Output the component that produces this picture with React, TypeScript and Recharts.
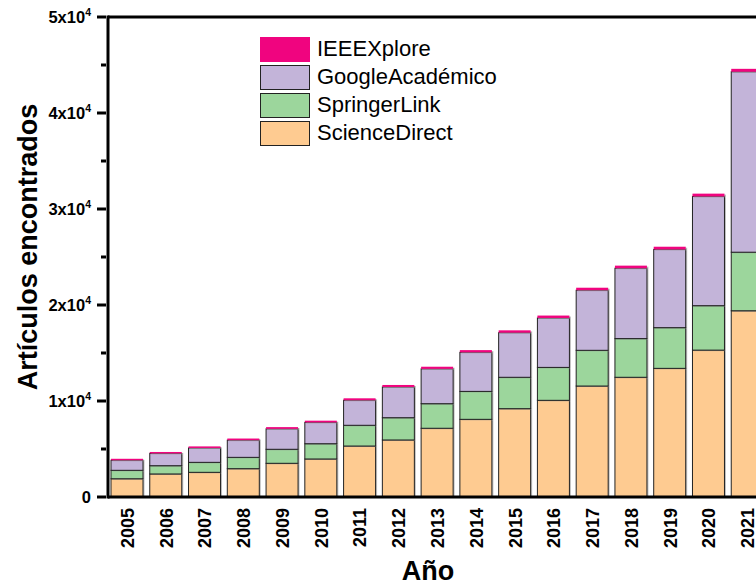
import { BarChart, Bar, XAxis, YAxis, Legend, ReferenceLine } from "recharts";

const years = ["2005", "2006", "2007", "2008", "2009", "2010", "2011", "2012", "2013", "2014", "2015", "2016", "2017", "2018", "2019", "2020", "2021"];
const scienceDirect = [1900, 2400, 2570, 2950, 3510, 3960, 5310, 5940, 7160, 8090, 9200, 10070, 11560, 12470, 13400, 15300, 19400];
const springerLink = [880, 860, 1040, 1180, 1460, 1590, 2160, 2320, 2560, 2910, 3270, 3430, 3720, 4030, 4240, 4630, 6100];
const googleAcademico = [1050, 1280, 1500, 1790, 2130, 2220, 2610, 3200, 3630, 4070, 4650, 5150, 6260, 7330, 8150, 11380, 18800];
const ieeeXplore = [150, 150, 160, 170, 180, 180, 200, 210, 220, 230, 240, 250, 260, 270, 280, 290, 300];
const yTicks = [0, 5000, 10000, 15000, 20000, 25000, 30000, 35000, 40000, 45000, 50000];

const data = years.map((year, i) => ({
  year,
  scienceDirect: scienceDirect[i],
  springerLink: springerLink[i],
  googleAcademico: googleAcademico[i],
  ieeeXplore: ieeeXplore[i],
}));

const FONT = "Arial, 'Liberation Sans', sans-serif";

const series = [
  { key: "ieeeXplore", name: "IEEEXplore", fill: "#F0047F", stroke: "#F0047F" },
  { key: "googleAcademico", name: "GoogleAcadémico", fill: "#C3B4D9", stroke: "#222" },
  { key: "springerLink", name: "SpringerLink", fill: "#9CD69C", stroke: "#222" },
  { key: "scienceDirect", name: "ScienceDirect", fill: "#FECB91", stroke: "#222" },
];

// bar with a faint grey shadow on its right edge, like the original export
const ShadowBar = (props: any) => {
  const { x, y, width, height, fill, stroke, outline } = props;
  if (!height || height <= 0) return null;
  return (
    <g>
      <rect x={x + 1.5} y={y + 1} width={width} height={height} fill="#8a8a8a" opacity={0.55} />
      <rect x={x} y={y} width={width} height={height} fill={fill} stroke={outline ? stroke : "none"} strokeWidth={1} />
    </g>
  );
};

const YTick = (props: any) => {
  const { x, y, payload } = props;
  const v = payload.value;
  const major = v % 10000 === 0;
  return (
    <g>
      <line x1={x - (major ? 9 : 5)} x2={x} y1={y} y2={y} stroke="#000" strokeWidth={3} />
      {major && (
        <text x={x - 15} y={y} dy={6} textAnchor="end" fontFamily={FONT} fontWeight="bold" fontSize={16.5} fill="#000">
          {v === 0 ? "0" : `${v / 10000}x10`}
          {v !== 0 && (
            <tspan dy={-7} fontSize={10.5}>
              4
            </tspan>
          )}
        </text>
      )}
    </g>
  );
};

const XTick = (props: any) => {
  const { x, y, payload } = props;
  return (
    <text
      transform={`translate(${x},${y + 9}) rotate(-90)`}
      dy="0.36em"
      textAnchor="end"
      fontFamily={FONT}
      fontWeight="bold"
      fontSize={18}
      fill="#000"
    >
      {payload.value}
    </text>
  );
};

const LegendBox = () => (
  <div style={{ fontFamily: FONT, fontSize: 22, color: "#000" }}>
    {series.map((s) => (
      <div key={s.key} style={{ display: "flex", alignItems: "center", height: 28 }}>
        <div
          style={{
            width: 50,
            height: 25,
            boxSizing: "border-box",
            background: s.fill,
            border: `1.5px solid ${s.stroke}`,
          }}
        />
        <span style={{ marginLeft: 7 }}>{s.name}</span>
      </div>
    ))}
  </div>
);

export default function App() {
  return (
    <div
      style={{
        position: "fixed",
        left: 0,
        top: 0,
        width: 756,
        height: 586,
        overflow: "hidden",
        background: "#fff",
      }}
    >
      <BarChart width={800} height={586} data={data} margin={{ top: 17, right: 33, left: 0, bottom: 0 }} barSize={32}>
        <XAxis
          dataKey="year"
          interval={0}
          height={89}
          tickSize={0}
          tickLine={false}
          axisLine={{ stroke: "#000", strokeWidth: 3 }}
          tick={(p: any) => <XTick {...p} />}
          label={() => (
            <text x={428} y={580} textAnchor="middle" fontFamily={FONT} fontWeight="bold" fontSize={27} fill="#000">
              Año
            </text>
          )}
        />
        <YAxis
          width={108}
          domain={[0, 50000]}
          ticks={yTicks}
          interval={0}
          tickSize={0}
          tickLine={false}
          axisLine={{ stroke: "#000", strokeWidth: 3, strokeLinecap: "square" }}
          tick={(p: any) => <YTick {...p} />}
          label={() => (
            <text
              transform="translate(37,247) rotate(-90)"
              textAnchor="middle"
              fontFamily={FONT}
              fontWeight="bold"
              fontSize={27}
              fill="#000"
            >
              Artículos encontrados
            </text>
          )}
        />
        <ReferenceLine y={50000} stroke="#000" strokeWidth={3} />
        <Legend
          layout="vertical"
          verticalAlign="middle"
          align="center"
          wrapperStyle={{ top: 35, left: 260, width: 260 }}
          content={() => <LegendBox />}
        />
        {series
          .slice()
          .reverse()
          .map((s) => (
            <Bar
              key={s.key}
              dataKey={s.key}
              name={s.name}
              stackId="a"
              fill={s.fill}
              stroke={s.stroke}
              shape={(p: any) => (
                <ShadowBar {...p} fill={s.fill} stroke={s.stroke} outline={s.key !== "ieeeXplore"} />
              )}
              isAnimationActive={false}
            />
          ))}
      </BarChart>
    </div>
  );
}
